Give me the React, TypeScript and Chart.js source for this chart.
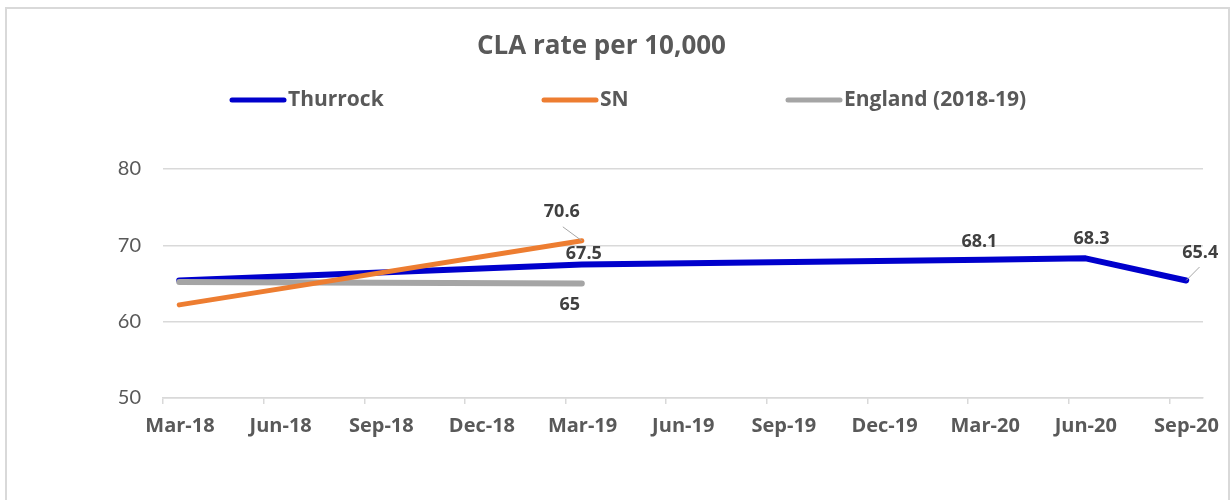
import React, { useEffect, useRef } from 'react';
import { Chart, registerables } from 'chart.js';

Chart.register(...registerables);

// ---------- data ----------
const TITLE = 'CLA rate per 10,000';
const TICK_LABELS = ['Mar-18', 'Jun-18', 'Sep-18', 'Dec-18', 'Mar-19', 'Jun-19', 'Sep-19', 'Dec-19', 'Mar-20', 'Jun-20', 'Sep-20'];
const SERIES_NAMES = ['Thurrock', 'SN', 'England (2018-19)'];
const THURROCK_DATES = ['2018-03-16', '2019-03-16', '2020-03-16', '2020-06-16', '2020-09-16'];
const THURROCK_VALUES = [65.4, 67.5, 68.1, 68.3, 65.4];
const SN_DATES = ['2018-03-16', '2019-03-16'];
const SN_VALUES = [62.2, 70.6];
const ENGLAND_DATES = ['2018-03-16', '2019-03-16'];
const ENGLAND_VALUES = [65.2, 65.0];
const AXIS_START = '2018-03-01';
const AXIS_END = '2020-10-01';
const Y_MIN = 50;
const Y_MAX = 80;
const Y_STEP = 10;
const TICK_STEP_MONTHS = 3;

// ---------- styles ----------
const COLORS = ['#0000CC', '#ED7D31', '#A5A5A5'];
const WIDTHS = [6, 5, 6];
const ORDERS = [2, 0, 1];
const FONT = 'Lato, "Open Sans", sans-serif';
const BOLD_FONT = '"Open Sans", Lato, sans-serif';
const TEXT = '#595959';
const LABEL_TEXT = '#404040';
const GRID = '#d9d9d9';

// which points get a value label, and where it sits relative to the point
const LABEL_PLACEMENT: Record<number, Record<number, { dx: number; dy: number; leader?: boolean }>> = {
  0: { 1: { dx: 2, dy: -11 }, 2: { dx: -5, dy: -18 }, 3: { dx: 6, dy: -19 }, 4: { dx: 14, dy: -28, leader: true } },
  1: { 1: { dx: -20, dy: -29, leader: true } },
  2: { 1: { dx: -12, dy: 21 } },
};
const LEGEND_X = [230, 542, 786];
const LEGEND_Y = 100;
const LEGEND_LINE = 56;

function monthIndex(s: string): number {
  const [y, m, d] = s.split('-').map(Number);
  const [y0, m0] = AXIS_START.split('-').map(Number);
  const days = new Date(y, m, 0).getDate();
  return (y - y0) * 12 + (m - m0) + (d - 1) / days;
}

function points(dates: string[], values: number[]) {
  return dates.map((d, i) => ({ x: monthIndex(d), y: values[i] }));
}

const valueLabels = {
  id: 'valueLabels',
  afterDatasetsDraw(chart: any) {
    const ctx = chart.ctx;
    ctx.save();
    ctx.font = `bold 18px ${BOLD_FONT}`;
    ctx.textAlign = 'center';
    ctx.textBaseline = 'middle';
    chart.data.datasets.forEach((ds: any, di: number) => {
      const place = LABEL_PLACEMENT[di] || {};
      const meta = chart.getDatasetMeta(di);
      meta.data.forEach((el: any, i: number) => {
        const p = place[i];
        if (!p) return;
        const v = ds.data[i].y;
        if (p.leader) {
          ctx.strokeStyle = '#a6a6a6';
          ctx.lineWidth = 1;
          ctx.beginPath();
          ctx.moveTo(el.x, el.y);
          ctx.lineTo(el.x + p.dx * 0.95, el.y + p.dy * 0.48);
          ctx.stroke();
        }
        ctx.fillStyle = LABEL_TEXT;
        ctx.fillText(String(v), el.x + p.dx, el.y + p.dy);
      });
    });
    ctx.restore();
  },
};

const customLegend = {
  id: 'customLegend',
  afterDraw(chart: any) {
    const ctx = chart.ctx;
    ctx.save();
    ctx.font = `bold 21px ${BOLD_FONT}`;
    ctx.textBaseline = 'middle';
    ctx.textAlign = 'left';
    chart.data.datasets.forEach((ds: any, i: number) => {
      const x = LEGEND_X[i];
      ctx.strokeStyle = ds.borderColor;
      ctx.lineWidth = 5;
      ctx.lineCap = 'round';
      ctx.beginPath();
      ctx.moveTo(x + 2, LEGEND_Y);
      ctx.lineTo(x + LEGEND_LINE - 2, LEGEND_Y);
      ctx.stroke();
      ctx.fillStyle = TEXT;
      ctx.fillText(ds.label, x + LEGEND_LINE + 2, LEGEND_Y);
    });
    ctx.restore();
  },
};

export default function App() {
  const ref = useRef<HTMLCanvasElement>(null);

  useEffect(() => {
    if (!ref.current) return;
    const seriesData = [
      points(THURROCK_DATES, THURROCK_VALUES),
      points(SN_DATES, SN_VALUES),
      points(ENGLAND_DATES, ENGLAND_VALUES),
    ];
    const chart = new Chart(ref.current, {
      type: 'line',
      data: {
        datasets: SERIES_NAMES.map((name, i) => ({
          label: name,
          data: seriesData[i],
          borderColor: COLORS[i],
          backgroundColor: COLORS[i],
          borderWidth: WIDTHS[i],
          borderCapStyle: 'round',
          borderJoinStyle: 'round',
          pointRadius: 0,
          tension: 0,
          order: ORDERS[i],
        })),
      },
      options: {
        responsive: false,
        animation: false,
        layout: { padding: { left: 0, right: 29, top: 0, bottom: 0 } },
        plugins: {
          legend: { display: false },
          tooltip: { enabled: false },
          title: {
            display: true,
            text: TITLE,
            color: TEXT,
            font: { family: BOLD_FONT, size: 26, weight: 'bold', lineHeight: 1.2 },
            padding: { top: 31, bottom: 106.8 },
          },
        },
        scales: {
          x: {
            type: 'linear',
            min: 0,
            max: monthIndex(AXIS_END),
            afterFit: (s: any) => { s.height = 102; },
            afterBuildTicks: (s: any) => {
              s.ticks = s.ticks.filter((t: any) => Math.abs(t.value % TICK_STEP_MONTHS) < 1e-6);
            },
            ticks: {
              stepSize: TICK_STEP_MONTHS,
              includeBounds: false,
              autoSkip: false,
              maxRotation: 0,
              labelOffset: 17,
              padding: 10,
              color: TEXT,
              font: { family: BOLD_FONT, size: 20, weight: 'bold' },
              callback: (v: any) => TICK_LABELS[Math.round(Number(v) / TICK_STEP_MONTHS)] ?? '',
            },
            grid: { drawOnChartArea: false, drawTicks: true, tickLength: 6, color: GRID, lineWidth: 1.5 },
            border: { display: true, color: GRID, width: 1.5 },
          },
          y: {
            min: Y_MIN,
            max: Y_MAX,
            afterFit: (s: any) => { s.width = 163; },
            ticks: {
              stepSize: Y_STEP,
              padding: 22,
              color: TEXT,
              font: { family: FONT, size: 20 },
            },
            grid: { color: GRID, lineWidth: 1.5, drawTicks: false },
            border: { display: false },
          },
        },
      },
      plugins: [valueLabels, customLegend],
    } as any);
    return () => chart.destroy();
  }, []);

  return (
    <>
      <div
        style={{
          position: 'fixed', left: 5, top: 7, width: 1225, height: 520,
          border: '2px solid #d9d9d9', boxSizing: 'border-box', background: '#fff',
        }}
      />
      <canvas ref={ref} width={1232} height={500} style={{ position: 'fixed', left: 0, top: 0, width: 1232, height: 500 }} />
    </>
  );
}
